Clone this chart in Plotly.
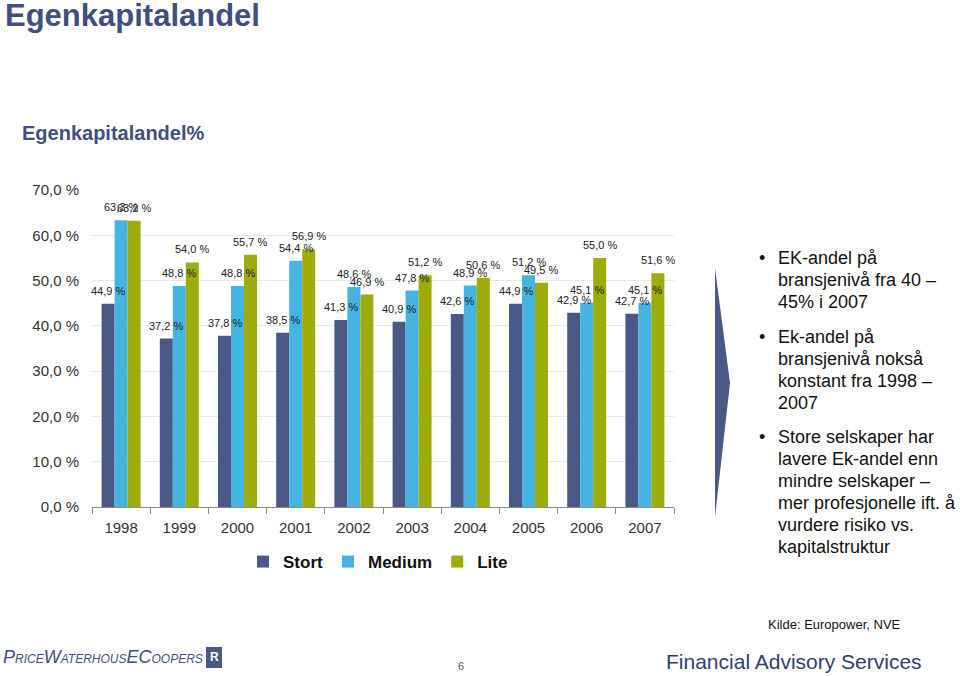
import plotly.graph_objects as go

years = ["1998", "1999", "2000", "2001", "2002", "2003", "2004", "2005", "2006", "2007"]
stort = [44.9, 37.2, 37.8, 38.5, 41.3, 40.9, 42.6, 44.9, 42.9, 42.7]
medium = [63.3, 48.8, 48.8, 54.4, 48.6, 47.8, 48.9, 51.2, 45.1, 45.1]
lite = [63.2, 54.0, 55.7, 56.9, 46.9, 51.2, 50.6, 49.5, 55.0, 51.6]
series_names = ["Stort", "Medium", "Lite"]
y_ticks = [0, 10, 20, 30, 40, 50, 60, 70]

colors = ["#4a5888", "#45b4e1", "#9dab0b"]
TITLE_C = "#3f4f7e"
FONT = "Liberation Sans, Arial, sans-serif"

W, H = 960, 676
PL, PR, PT, PB = 92, 674, 190, 507  # page pixel positions of plot area


def px(x):
    return (x - PL) / (PR - PL)


def py(y):
    return (PB - y) / (PB - PT)


def fmt(v):
    return f"{v:.1f} %".replace(".", ",")


fig = go.Figure()
for name, vals, c in zip(series_names, [stort, medium, lite], colors):
    fig.add_trace(go.Bar(
        x=years, y=vals, name=name, marker=dict(color=c, line=dict(width=0)),
        hoverinfo="x+y",
    ))

fig.update_layout(
    width=W, height=H,
    margin=dict(l=PL, r=W - PR, t=PT, b=H - PB, pad=0),
    paper_bgcolor="white", plot_bgcolor="white",
    barmode="group", bargap=0.33, bargroupgap=0,
    font=dict(family=FONT, color="#333333"),
    showlegend=True,
    legend=dict(orientation="h", x=px(378), xanchor="center", y=py(562), yanchor="middle",
                font=dict(family=FONT, size=17, color="#111111", weight="bold"),
                traceorder="normal", itemwidth=30, tracegroupgap=0),
    yaxis=dict(range=[0, 70], tickvals=y_ticks,
               ticktext=[fmt(v) for v in y_ticks],
               showgrid=True, gridcolor="#e1e9f1", gridwidth=1,
               zeroline=False, showline=False,
               tickfont=dict(family=FONT, size=15, color="#333333"),
               ticks="", ticklabelstandoff=12),
    xaxis=dict(type="category", categoryorder="array", categoryarray=years,
               range=[-0.5, len(years) - 0.5],
               showline=True, linecolor="#8c8c8c", linewidth=1,
               ticks="outside", tickson="boundaries", ticklen=6, tickcolor="#8c8c8c",
               tickfont=dict(family=FONT, size=15, color="#333333"),
               ticklabelstandoff=7, showgrid=False),
)

ann = []
# data labels (placed through the axes, shifted onto each bar of the group)
cat_w = (PR - PL) / len(years)
bar_w = cat_w * (1 - 0.33) / 3
for k, vals in enumerate([stort, medium, lite]):
    for i, v in enumerate(vals):
        ann.append(dict(text=fmt(v), x=i, y=v, xref="x", yref="y",
                        xshift=(k - 1) * bar_w, yshift=13,
                        xanchor="center", yanchor="middle", showarrow=False,
                        font=dict(family=FONT, size=11, color="#222222")))

pa = []
pa.append(dict(text="<b>Egenkapitalandel</b>", x=px(3), y=py(15), xanchor="left", yanchor="middle",
               font=dict(family=FONT, size=31, color=TITLE_C)))
pa.append(dict(text="<b>Egenkapitalandel%</b>", x=px(20), y=py(133), xanchor="left", yanchor="middle",
               font=dict(family=FONT, size=20, color=TITLE_C)))

bullet_lines = [
    ["EK-andel på", "bransjenivå fra 40 –", "45% i 2007"],
    ["Ek-andel på", "bransjenivå nokså", "konstant fra 1998 –", "2007"],
    ["Store selskaper har", "lavere Ek-andel enn", "mindre selskaper –",
     "mer profesjonelle ift. å", "vurdere risiko vs.", "kapitalstruktur"],
]
bullet_start = [258, 337, 437]
for lines, y0 in zip(bullet_lines, bullet_start):
    pa.append(dict(text="•", x=px(757), y=py(y0), xanchor="left", yanchor="middle",
                   font=dict(family=FONT, size=18, color="#111111")))
    for i, t in enumerate(lines):
        pa.append(dict(text=t, x=px(776), y=py(y0 + i * 21.9), xanchor="left", yanchor="middle",
                       font=dict(family=FONT, size=18, color="#111111")))

pa.append(dict(text="Kilde: Europower, NVE", x=px(766), y=py(624), xanchor="left", yanchor="middle",
               font=dict(family=FONT, size=13, color="#111111")))
pa.append(dict(text="6", x=px(461), y=py(666), xanchor="center", yanchor="middle",
               font=dict(family=FONT, size=11, color="#555555")))
pa.append(dict(text="Financial Advisory Services", x=px(664), y=py(661), xanchor="left", yanchor="middle",
               font=dict(family=FONT, size=21, color="#2f3f70")))
logo = ("<i>P<span style='font-size:12px'>RICE</span>W<span style='font-size:12px'>ATERHOUS</span>E"
        "C<span style='font-size:12px'>OOPERS</span></i>")
pa.append(dict(text=logo, x=px(1), y=py(657), xanchor="left", yanchor="middle",
               font=dict(family=FONT, size=18, color="#3f4f7e")))
pa.append(dict(text="<b>R</b>", x=px(214), y=py(657), xanchor="center", yanchor="middle",
               font=dict(family=FONT, size=12, color="white")))

for a in pa:
    a.update(xref="paper", yref="paper", showarrow=False)
fig.update_layout(annotations=ann + pa)

shapes = [
    dict(type="path", xref="paper", yref="paper",
         path=f"M {px(715)},{py(268)} L {px(730)},{py(383)} L {px(715)},{py(517)} Z",
         fillcolor="#4a5888", line=dict(width=0), layer="below"),
    dict(type="rect", xref="paper", yref="paper", x0=px(206), x1=px(222), y0=py(647), y1=py(668),
         fillcolor="#4a5888", line=dict(width=0), layer="below"),
]
fig.update_layout(shapes=shapes)

fig.write_html("out.html", config={"displayModeBar": False},
               post_script="document.body.style.margin='0';document.body.style.overflow='hidden';")
